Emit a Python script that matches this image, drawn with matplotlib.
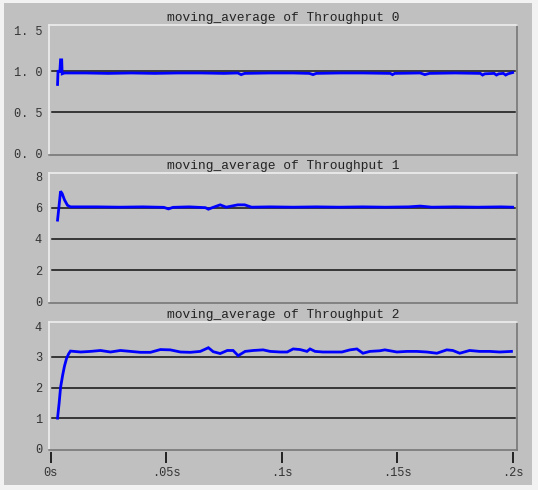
import matplotlib
matplotlib.use("Agg")
import matplotlib.pyplot as plt
from matplotlib.patches import Rectangle

# --- data (time in seconds) ---
t0 = [0.0030, 0.0032, 0.0040, 0.0043, 0.0048, 0.0050, 0.0060, 0.0150, 0.0250,
      0.0350, 0.0450, 0.0550, 0.0650, 0.0750, 0.0810, 0.0825, 0.0840, 0.0950,
      0.1050, 0.1120, 0.1136, 0.1150, 0.1250, 0.1350, 0.1470, 0.1480, 0.1490,
      0.1600, 0.1620, 0.1640, 0.1750, 0.1860, 0.1870, 0.1880, 0.1920, 0.1930,
      0.1940, 0.1960, 0.1970, 0.1980, 0.2000]
thr0 = [0.84, 1.00, 1.00, 1.14, 1.14, 0.97, 0.98, 0.98, 0.975,
        0.98, 0.975, 0.98, 0.98, 0.975, 0.98, 0.96, 0.975, 0.98,
        0.98, 0.975, 0.96, 0.975, 0.98, 0.98, 0.975, 0.96, 0.975,
        0.98, 0.96, 0.975, 0.98, 0.975, 0.955, 0.97, 0.975, 0.955,
        0.97, 0.975, 0.955, 0.97, 0.985]

t1 = [0.0030, 0.0035, 0.0043, 0.0050, 0.0060, 0.0073, 0.0086, 0.0200, 0.0300,
      0.0400, 0.0490, 0.0510, 0.0530, 0.0600, 0.0670, 0.0683, 0.0700, 0.0734,
      0.0760, 0.0810, 0.0840, 0.0870, 0.0950, 0.1050, 0.1150, 0.1250, 0.1350,
      0.1450, 0.1550, 0.1600, 0.1650, 0.1750, 0.1850, 0.1950, 0.2000]
thr1 = [5.20, 5.90, 7.05, 6.90, 6.50, 6.15, 6.05, 6.05, 6.03,
        6.05, 6.02, 5.92, 6.02, 6.05, 6.00, 5.90, 6.00, 6.18,
        6.03, 6.18, 6.18, 6.03, 6.05, 6.03, 6.05, 6.03, 6.05,
        6.03, 6.05, 6.10, 6.03, 6.05, 6.03, 6.05, 6.03]

t2 = [0.0030, 0.0037, 0.0043, 0.0052, 0.0060, 0.0069, 0.0078, 0.0086, 0.0130,
      0.0173, 0.0216, 0.0259, 0.0302, 0.0346, 0.0389, 0.0432, 0.0475, 0.0518,
      0.0562, 0.0605, 0.0648, 0.0683, 0.0704, 0.0734, 0.0765, 0.0790, 0.0812,
      0.0842, 0.0877, 0.0920, 0.0950, 0.0994, 0.1024, 0.1050, 0.1080, 0.1110,
      0.1123, 0.1145, 0.1179, 0.1222, 0.1261, 0.1296, 0.1326, 0.1352, 0.1382,
      0.1425, 0.1447, 0.1499, 0.1542, 0.1585, 0.1629, 0.1672, 0.1715, 0.1741,
      0.1771, 0.1814, 0.1857, 0.1901, 0.1944, 0.1995]
thr2 = [1.00, 1.50, 2.00, 2.40, 2.70, 2.95, 3.10, 3.19, 3.16,
        3.18, 3.21, 3.16, 3.21, 3.18, 3.15, 3.15, 3.24, 3.23,
        3.16, 3.15, 3.18, 3.30, 3.17, 3.11, 3.21, 3.21, 3.04,
        3.18, 3.21, 3.23, 3.18, 3.16, 3.16, 3.26, 3.24, 3.18,
        3.26, 3.18, 3.16, 3.16, 3.16, 3.23, 3.26, 3.12, 3.18,
        3.20, 3.23, 3.16, 3.18, 3.18, 3.16, 3.12, 3.23, 3.21,
        3.12, 3.21, 3.18, 3.18, 3.16, 3.18]

series = [(t0, thr0), (t1, thr1), (t2, thr2)]
titles = ["moving_average of Throughput 0",
          "moving_average of Throughput 1",
          "moving_average of Throughput 2"]
yticks = [[0.0, 0.5, 1.0, 1.5], [0, 2, 4, 6, 8], [0, 1, 2, 3, 4]]
ytick_labels = [["0. 0", "0. 5", "1. 0", "1. 5"], ["0", "2", "4", "6", "8"],
                ["0", "1", "2", "3", "4"]]
ylims = [(-0.02, 1.565), (-0.11, 8.22), (-0.04, 4.14)]
xticks = [0, 0.05, 0.1, 0.15, 0.2]
xtick_labels = ["0s", ".05s", ".1s", ".15s", ".2s"]

GRAY = "#c0c0c0"
FONT = "Liberation Mono"

W, H = 538, 490
fig = plt.figure(figsize=(W / 100, H / 100), dpi=100, facecolor="#f2f2f2")
fig.patches.append(Rectangle((4 / W, 1 - 485 / H), (532 - 4) / W, (485 - 3) / H,
                             transform=fig.transFigure, facecolor=GRAY,
                             edgecolor="none", zorder=-10))

# panel boxes in pixels: (top, bottom)
boxes = [(25, 155), (173, 303), (322, 450)]
left, right = 49, 517

for i, ((t, v), (top, bot)) in enumerate(zip(series, boxes)):
    ax = fig.add_axes([left / W, 1 - bot / H, (right - left) / W, (bot - top) / H])
    ax.set_facecolor(GRAY)
    ax.set_xlim(-0.0007, 0.2019)
    ax.set_ylim(*ylims[i])

    # grid lines at inner ticks
    for yv in yticks[i][1:-1]:
        ax.axhline(yv, xmin=0.0064, xmax=0.996, color="#111111", lw=1.1, zorder=1)

    ax.plot(t, v, color="#0000ff", lw=2.0, zorder=3, solid_joinstyle="miter")

    ax.set_title(titles[i], fontfamily=FONT, fontsize=9.3, color="#222222", pad=3)

    ax.set_yticks(yticks[i])
    ax.set_yticklabels(ytick_labels[i], fontfamily=FONT, fontsize=8.6, color="#333333")
    ax.tick_params(axis="y", length=0, pad=5)

    if i == 2:
        ax.set_xticks(xticks)
        ax.set_xticklabels(xtick_labels, fontfamily=FONT, fontsize=8.6, color="#333333")
        ax.tick_params(axis="x", length=0, pad=12)
        # tick marks sit a little below the panel, as in the original
        ax.vlines(xticks, -0.016, -0.10, transform=ax.get_xaxis_transform(),
                  colors="#222222", lw=1.4, clip_on=False)
    else:
        ax.set_xticks([])

    for side in ("left", "top"):
        ax.spines[side].set_color("#eeeeee")
        ax.spines[side].set_linewidth(1.2)
    for side in ("right", "bottom"):
        ax.spines[side].set_color("#777777")
        ax.spines[side].set_linewidth(1.2)

fig.savefig("out.png", dpi=100, facecolor=fig.get_facecolor())
